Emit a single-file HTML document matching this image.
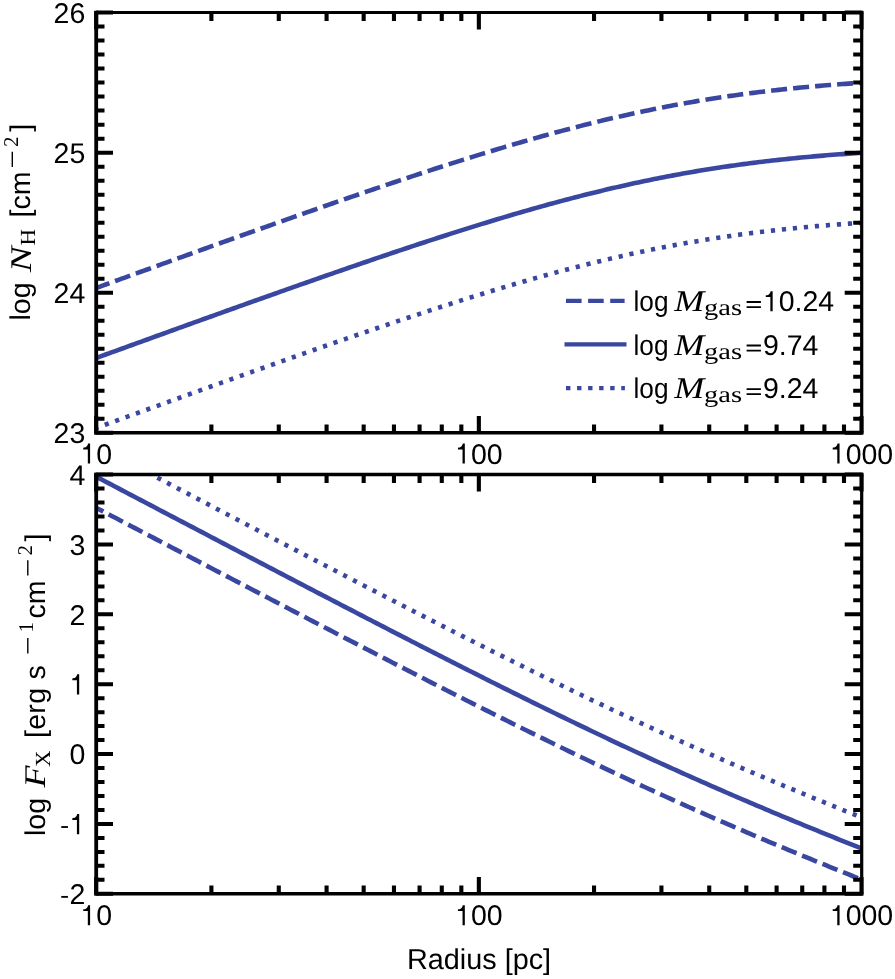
<!DOCTYPE html>
<html><head><meta charset="utf-8"><style>
html,body{margin:0;padding:0;background:#fff;}
svg{display:block;will-change:transform;}
text{font-family:"Liberation Sans", sans-serif;font-size:28.5px;fill:#000;text-rendering:geometricPrecision;}
.ser{font-family:"Liberation Serif", serif;}
</style></head><body>
<svg width="895" height="979" viewBox="0 0 895 979">
<defs>
<clipPath id="cu"><rect x="96.2" y="12.6" width="765.3" height="420.09999999999997"/></clipPath>
<clipPath id="cl"><rect x="96.2" y="474.6" width="765.3" height="419.19999999999993"/></clipPath>
</defs>
<rect width="895" height="979" fill="#fff"/>
<g fill="none" stroke="#3947a0" stroke-width="4.6" stroke-linejoin="round">
<g clip-path="url(#cu)">
<path d="M96.20,287.98 L99.39,286.82 L102.58,285.66 L105.77,284.50 L108.96,283.34 L112.14,282.18 L115.33,281.03 L118.52,279.87 L121.71,278.71 L124.90,277.56 L128.09,276.40 L131.28,275.24 L134.47,274.09 L137.65,272.93 L140.84,271.78 L144.03,270.62 L147.22,269.47 L150.41,268.31 L153.60,267.16 L156.79,266.01 L159.98,264.85 L163.16,263.70 L166.35,262.55 L169.54,261.40 L172.73,260.25 L175.92,259.10 L179.11,257.94 L182.30,256.79 L185.49,255.64 L188.67,254.50 L191.86,253.35 L195.05,252.20 L198.24,251.05 L201.43,249.90 L204.62,248.76 L207.81,247.61 L211.00,246.46 L214.18,245.32 L217.37,244.17 L220.56,243.03 L223.75,241.89 L226.94,240.74 L230.13,239.60 L233.32,238.46 L236.50,237.32 L239.69,236.18 L242.88,235.04 L246.07,233.90 L249.26,232.77 L252.45,231.63 L255.64,230.49 L258.83,229.36 L262.01,228.22 L265.20,227.09 L268.39,225.96 L271.58,224.82 L274.77,223.69 L277.96,222.56 L281.15,221.43 L284.34,220.31 L287.52,219.18 L290.71,218.05 L293.90,216.93 L297.09,215.81 L300.28,214.68 L303.47,213.56 L306.66,212.44 L309.85,211.32 L313.03,210.21 L316.22,209.09 L319.41,207.97 L322.60,206.86 L325.79,205.75 L328.98,204.64 L332.17,203.53 L335.36,202.42 L338.54,201.31 L341.73,200.21 L344.92,199.11 L348.11,198.01 L351.30,196.91 L354.49,195.81 L357.68,194.71 L360.87,193.62 L364.05,192.52 L367.24,191.43 L370.43,190.35 L373.62,189.26 L376.81,188.17 L380.00,187.09 L383.19,186.01 L386.38,184.93 L389.56,183.86 L392.75,182.78 L395.94,181.71 L399.13,180.64 L402.32,179.58 L405.51,178.51 L408.70,177.45 L411.89,176.39 L415.08,175.34 L418.26,174.28 L421.45,173.23 L424.64,172.19 L427.83,171.14 L431.02,170.10 L434.21,169.06 L437.40,168.03 L440.58,166.99 L443.77,165.96 L446.96,164.94 L450.15,163.92 L453.34,162.90 L456.53,161.88 L459.72,160.87 L462.91,159.86 L466.10,158.86 L469.28,157.86 L472.47,156.86 L475.66,155.87 L478.85,154.88 L482.04,153.90 L485.23,152.92 L488.42,151.94 L491.60,150.97 L494.79,150.00 L497.98,149.04 L501.17,148.08 L504.36,147.13 L507.55,146.18 L510.74,145.24 L513.93,144.30 L517.12,143.37 L520.30,142.44 L523.49,141.51 L526.68,140.60 L529.87,139.68 L533.06,138.78 L536.25,137.87 L539.44,136.98 L542.63,136.09 L545.81,135.20 L549.00,134.32 L552.19,133.45 L555.38,132.58 L558.57,131.72 L561.76,130.87 L564.95,130.02 L568.13,129.18 L571.32,128.34 L574.51,127.51 L577.70,126.69 L580.89,125.87 L584.08,125.07 L587.27,124.26 L590.46,123.47 L593.64,122.68 L596.83,121.90 L600.02,121.12 L603.21,120.35 L606.40,119.59 L609.59,118.84 L612.78,118.09 L615.97,117.35 L619.15,116.62 L622.34,115.90 L625.53,115.18 L628.72,114.47 L631.91,113.77 L635.10,113.08 L638.29,112.39 L641.48,111.71 L644.67,111.04 L647.85,110.38 L651.04,109.72 L654.23,109.07 L657.42,108.43 L660.61,107.80 L663.80,107.18 L666.99,106.56 L670.17,105.95 L673.36,105.35 L676.55,104.76 L679.74,104.17 L682.93,103.60 L686.12,103.03 L689.31,102.47 L692.50,101.91 L695.68,101.37 L698.87,100.83 L702.06,100.30 L705.25,99.78 L708.44,99.26 L711.63,98.76 L714.82,98.26 L718.01,97.77 L721.20,97.28 L724.38,96.81 L727.57,96.34 L730.76,95.88 L733.95,95.43 L737.14,94.98 L740.33,94.55 L743.52,94.11 L746.71,93.69 L749.89,93.28 L753.08,92.87 L756.27,92.47 L759.46,92.07 L762.65,91.68 L765.84,91.30 L769.03,90.93 L772.22,90.56 L775.40,90.20 L778.59,89.85 L781.78,89.50 L784.97,89.16 L788.16,88.83 L791.35,88.50 L794.54,88.18 L797.72,87.87 L800.91,87.56 L804.10,87.26 L807.29,86.96 L810.48,86.67 L813.67,86.39 L816.86,86.11 L820.05,85.84 L823.24,85.57 L826.42,85.31 L829.61,85.05 L832.80,84.80 L835.99,84.56 L839.18,84.31 L842.37,84.08 L845.56,83.85 L848.75,83.62 L851.93,83.40 L855.12,83.19 L858.31,82.98 L861.50,82.77" stroke-dasharray="16.06 6.03" stroke-dashoffset="2"/>
<path d="M96.20,357.99 L99.39,356.83 L102.58,355.68 L105.77,354.52 L108.96,353.36 L112.14,352.20 L115.33,351.04 L118.52,349.89 L121.71,348.73 L124.90,347.57 L128.09,346.42 L131.28,345.26 L134.47,344.11 L137.65,342.95 L140.84,341.79 L144.03,340.64 L147.22,339.49 L150.41,338.33 L153.60,337.18 L156.79,336.02 L159.98,334.87 L163.16,333.72 L166.35,332.57 L169.54,331.41 L172.73,330.26 L175.92,329.11 L179.11,327.96 L182.30,326.81 L185.49,325.66 L188.67,324.51 L191.86,323.36 L195.05,322.21 L198.24,321.07 L201.43,319.92 L204.62,318.77 L207.81,317.63 L211.00,316.48 L214.18,315.34 L217.37,314.19 L220.56,313.05 L223.75,311.90 L226.94,310.76 L230.13,309.62 L233.32,308.48 L236.50,307.34 L239.69,306.20 L242.88,305.06 L246.07,303.92 L249.26,302.78 L252.45,301.65 L255.64,300.51 L258.83,299.37 L262.01,298.24 L265.20,297.11 L268.39,295.97 L271.58,294.84 L274.77,293.71 L277.96,292.58 L281.15,291.45 L284.34,290.32 L287.52,289.20 L290.71,288.07 L293.90,286.95 L297.09,285.82 L300.28,284.70 L303.47,283.58 L306.66,282.46 L309.85,281.34 L313.03,280.22 L316.22,279.11 L319.41,277.99 L322.60,276.88 L325.79,275.77 L328.98,274.65 L332.17,273.55 L335.36,272.44 L338.54,271.33 L341.73,270.23 L344.92,269.12 L348.11,268.02 L351.30,266.92 L354.49,265.82 L357.68,264.73 L360.87,263.63 L364.05,262.54 L367.24,261.45 L370.43,260.36 L373.62,259.28 L376.81,258.19 L380.00,257.11 L383.19,256.03 L386.38,254.95 L389.56,253.87 L392.75,252.80 L395.94,251.73 L399.13,250.66 L402.32,249.59 L405.51,248.53 L408.70,247.47 L411.89,246.41 L415.08,245.35 L418.26,244.30 L421.45,243.25 L424.64,242.20 L427.83,241.16 L431.02,240.12 L434.21,239.08 L437.40,238.04 L440.58,237.01 L443.77,235.98 L446.96,234.96 L450.15,233.93 L453.34,232.91 L456.53,231.90 L459.72,230.89 L462.91,229.88 L466.10,228.88 L469.28,227.88 L472.47,226.88 L475.66,225.89 L478.85,224.90 L482.04,223.91 L485.23,222.93 L488.42,221.96 L491.60,220.99 L494.79,220.02 L497.98,219.06 L501.17,218.10 L504.36,217.15 L507.55,216.20 L510.74,215.25 L513.93,214.32 L517.12,213.38 L520.30,212.45 L523.49,211.53 L526.68,210.61 L529.87,209.70 L533.06,208.79 L536.25,207.89 L539.44,207.00 L542.63,206.10 L545.81,205.22 L549.00,204.34 L552.19,203.47 L555.38,202.60 L558.57,201.74 L561.76,200.89 L564.95,200.04 L568.13,199.20 L571.32,198.36 L574.51,197.53 L577.70,196.71 L580.89,195.89 L584.08,195.08 L587.27,194.28 L590.46,193.48 L593.64,192.69 L596.83,191.91 L600.02,191.14 L603.21,190.37 L606.40,189.61 L609.59,188.85 L612.78,188.11 L615.97,187.37 L619.15,186.64 L622.34,185.91 L625.53,185.20 L628.72,184.49 L631.91,183.79 L635.10,183.09 L638.29,182.41 L641.48,181.73 L644.67,181.06 L647.85,180.39 L651.04,179.74 L654.23,179.09 L657.42,178.45 L660.61,177.82 L663.80,177.19 L666.99,176.58 L670.17,175.97 L673.36,175.37 L676.55,174.77 L679.74,174.19 L682.93,173.61 L686.12,173.04 L689.31,172.48 L692.50,171.93 L695.68,171.38 L698.87,170.85 L702.06,170.32 L705.25,169.79 L708.44,169.28 L711.63,168.77 L714.82,168.28 L718.01,167.78 L721.20,167.30 L724.38,166.83 L727.57,166.36 L730.76,165.90 L733.95,165.44 L737.14,165.00 L740.33,164.56 L743.52,164.13 L746.71,163.71 L749.89,163.29 L753.08,162.88 L756.27,162.48 L759.46,162.09 L762.65,161.70 L765.84,161.32 L769.03,160.95 L772.22,160.58 L775.40,160.22 L778.59,159.87 L781.78,159.52 L784.97,159.18 L788.16,158.85 L791.35,158.52 L794.54,158.20 L797.72,157.89 L800.91,157.58 L804.10,157.28 L807.29,156.98 L810.48,156.69 L813.67,156.40 L816.86,156.13 L820.05,155.85 L823.24,155.59 L826.42,155.32 L829.61,155.07 L832.80,154.82 L835.99,154.57 L839.18,154.33 L842.37,154.10 L845.56,153.87 L848.75,153.64 L851.93,153.42 L855.12,153.21 L858.31,152.99 L861.50,152.79" />
<path d="M96.20,428.01 L99.39,426.85 L102.58,425.69 L105.77,424.53 L108.96,423.38 L112.14,422.22 L115.33,421.06 L118.52,419.90 L121.71,418.75 L124.90,417.59 L128.09,416.43 L131.28,415.28 L134.47,414.12 L137.65,412.97 L140.84,411.81 L144.03,410.66 L147.22,409.50 L150.41,408.35 L153.60,407.19 L156.79,406.04 L159.98,404.89 L163.16,403.74 L166.35,402.58 L169.54,401.43 L172.73,400.28 L175.92,399.13 L179.11,397.98 L182.30,396.83 L185.49,395.68 L188.67,394.53 L191.86,393.38 L195.05,392.23 L198.24,391.08 L201.43,389.94 L204.62,388.79 L207.81,387.64 L211.00,386.50 L214.18,385.35 L217.37,384.21 L220.56,383.06 L223.75,381.92 L226.94,380.78 L230.13,379.64 L233.32,378.49 L236.50,377.35 L239.69,376.21 L242.88,375.07 L246.07,373.94 L249.26,372.80 L252.45,371.66 L255.64,370.53 L258.83,369.39 L262.01,368.26 L265.20,367.12 L268.39,365.99 L271.58,364.86 L274.77,363.73 L277.96,362.60 L281.15,361.47 L284.34,360.34 L287.52,359.21 L290.71,358.09 L293.90,356.96 L297.09,355.84 L300.28,354.72 L303.47,353.60 L306.66,352.48 L309.85,351.36 L313.03,350.24 L316.22,349.12 L319.41,348.01 L322.60,346.89 L325.79,345.78 L328.98,344.67 L332.17,343.56 L335.36,342.45 L338.54,341.35 L341.73,340.24 L344.92,339.14 L348.11,338.04 L351.30,336.94 L354.49,335.84 L357.68,334.74 L360.87,333.65 L364.05,332.56 L367.24,331.47 L370.43,330.38 L373.62,329.29 L376.81,328.21 L380.00,327.12 L383.19,326.04 L386.38,324.97 L389.56,323.89 L392.75,322.82 L395.94,321.75 L399.13,320.68 L402.32,319.61 L405.51,318.55 L408.70,317.49 L411.89,316.43 L415.08,315.37 L418.26,314.32 L421.45,313.27 L424.64,312.22 L427.83,311.17 L431.02,310.13 L434.21,309.09 L437.40,308.06 L440.58,307.03 L443.77,306.00 L446.96,304.97 L450.15,303.95 L453.34,302.93 L456.53,301.92 L459.72,300.90 L462.91,299.90 L466.10,298.89 L469.28,297.89 L472.47,296.90 L475.66,295.90 L478.85,294.91 L482.04,293.93 L485.23,292.95 L488.42,291.97 L491.60,291.00 L494.79,290.04 L497.98,289.07 L501.17,288.12 L504.36,287.16 L507.55,286.21 L510.74,285.27 L513.93,284.33 L517.12,283.40 L520.30,282.47 L523.49,281.55 L526.68,280.63 L529.87,279.72 L533.06,278.81 L536.25,277.91 L539.44,277.01 L542.63,276.12 L545.81,275.24 L549.00,274.36 L552.19,273.49 L555.38,272.62 L558.57,271.76 L561.76,270.90 L564.95,270.05 L568.13,269.21 L571.32,268.38 L574.51,267.55 L577.70,266.72 L580.89,265.91 L584.08,265.10 L587.27,264.30 L590.46,263.50 L593.64,262.71 L596.83,261.93 L600.02,261.15 L603.21,260.39 L606.40,259.63 L609.59,258.87 L612.78,258.13 L615.97,257.39 L619.15,256.65 L622.34,255.93 L625.53,255.21 L628.72,254.50 L631.91,253.80 L635.10,253.11 L638.29,252.42 L641.48,251.74 L644.67,251.07 L647.85,250.41 L651.04,249.75 L654.23,249.11 L657.42,248.47 L660.61,247.83 L663.80,247.21 L666.99,246.59 L670.17,245.98 L673.36,245.38 L676.55,244.79 L679.74,244.21 L682.93,243.63 L686.12,243.06 L689.31,242.50 L692.50,241.95 L695.68,241.40 L698.87,240.86 L702.06,240.33 L705.25,239.81 L708.44,239.30 L711.63,238.79 L714.82,238.29 L718.01,237.80 L721.20,237.32 L724.38,236.84 L727.57,236.37 L730.76,235.91 L733.95,235.46 L737.14,235.02 L740.33,234.58 L743.52,234.15 L746.71,233.72 L749.89,233.31 L753.08,232.90 L756.27,232.50 L759.46,232.10 L762.65,231.72 L765.84,231.34 L769.03,230.96 L772.22,230.60 L775.40,230.24 L778.59,229.88 L781.78,229.54 L784.97,229.20 L788.16,228.86 L791.35,228.54 L794.54,228.22 L797.72,227.90 L800.91,227.59 L804.10,227.29 L807.29,227.00 L810.48,226.71 L813.67,226.42 L816.86,226.14 L820.05,225.87 L823.24,225.60 L826.42,225.34 L829.61,225.08 L832.80,224.83 L835.99,224.59 L839.18,224.35 L842.37,224.11 L845.56,223.88 L848.75,223.66 L851.93,223.44 L855.12,223.22 L858.31,223.01 L861.50,222.81" stroke-dasharray="4.2 6.84" stroke-dashoffset="1.9"/>
</g>
<g clip-path="url(#cl)">
<path d="M96.20,507.79 L99.39,509.46 L102.58,511.13 L105.77,512.81 L108.96,514.48 L112.14,516.16 L115.33,517.83 L118.52,519.50 L121.71,521.18 L124.90,522.85 L128.09,524.53 L131.28,526.20 L134.47,527.87 L137.65,529.55 L140.84,531.22 L144.03,532.89 L147.22,534.57 L150.41,536.24 L153.60,537.91 L156.79,539.59 L159.98,541.26 L163.16,542.93 L166.35,544.61 L169.54,546.28 L172.73,547.95 L175.92,549.62 L179.11,551.30 L182.30,552.97 L185.49,554.64 L188.67,556.31 L191.86,557.99 L195.05,559.66 L198.24,561.33 L201.43,563.00 L204.62,564.67 L207.81,566.34 L211.00,568.02 L214.18,569.69 L217.37,571.36 L220.56,573.03 L223.75,574.70 L226.94,576.37 L230.13,578.04 L233.32,579.71 L236.50,581.38 L239.69,583.05 L242.88,584.72 L246.07,586.38 L249.26,588.05 L252.45,589.72 L255.64,591.39 L258.83,593.06 L262.01,594.73 L265.20,596.39 L268.39,598.06 L271.58,599.73 L274.77,601.39 L277.96,603.06 L281.15,604.72 L284.34,606.39 L287.52,608.05 L290.71,609.72 L293.90,611.38 L297.09,613.05 L300.28,614.71 L303.47,616.37 L306.66,618.03 L309.85,619.70 L313.03,621.36 L316.22,623.02 L319.41,624.68 L322.60,626.34 L325.79,628.00 L328.98,629.66 L332.17,631.31 L335.36,632.97 L338.54,634.63 L341.73,636.28 L344.92,637.94 L348.11,639.60 L351.30,641.25 L354.49,642.90 L357.68,644.56 L360.87,646.21 L364.05,647.86 L367.24,649.51 L370.43,651.16 L373.62,652.81 L376.81,654.46 L380.00,656.11 L383.19,657.75 L386.38,659.40 L389.56,661.04 L392.75,662.69 L395.94,664.33 L399.13,665.97 L402.32,667.61 L405.51,669.25 L408.70,670.89 L411.89,672.53 L415.08,674.17 L418.26,675.80 L421.45,677.44 L424.64,679.07 L427.83,680.70 L431.02,682.33 L434.21,683.96 L437.40,685.59 L440.58,687.21 L443.77,688.84 L446.96,690.46 L450.15,692.09 L453.34,693.71 L456.53,695.33 L459.72,696.95 L462.91,698.56 L466.10,700.18 L469.28,701.79 L472.47,703.40 L475.66,705.01 L478.85,706.62 L482.04,708.23 L485.23,709.83 L488.42,711.43 L491.60,713.04 L494.79,714.63 L497.98,716.23 L501.17,717.83 L504.36,719.42 L507.55,721.01 L510.74,722.60 L513.93,724.19 L517.12,725.77 L520.30,727.35 L523.49,728.94 L526.68,730.51 L529.87,732.09 L533.06,733.66 L536.25,735.23 L539.44,736.80 L542.63,738.37 L545.81,739.93 L549.00,741.49 L552.19,743.05 L555.38,744.61 L558.57,746.16 L561.76,747.71 L564.95,749.26 L568.13,750.81 L571.32,752.35 L574.51,753.89 L577.70,755.43 L580.89,756.96 L584.08,758.49 L587.27,760.02 L590.46,761.55 L593.64,763.07 L596.83,764.59 L600.02,766.11 L603.21,767.62 L606.40,769.13 L609.59,770.64 L612.78,772.14 L615.97,773.64 L619.15,775.14 L622.34,776.64 L625.53,778.13 L628.72,779.62 L631.91,781.10 L635.10,782.58 L638.29,784.06 L641.48,785.54 L644.67,787.01 L647.85,788.48 L651.04,789.94 L654.23,791.40 L657.42,792.86 L660.61,794.32 L663.80,795.77 L666.99,797.22 L670.17,798.66 L673.36,800.10 L676.55,801.54 L679.74,802.97 L682.93,804.40 L686.12,805.83 L689.31,807.25 L692.50,808.68 L695.68,810.09 L698.87,811.51 L702.06,812.92 L705.25,814.32 L708.44,815.73 L711.63,817.13 L714.82,818.52 L718.01,819.92 L721.20,821.31 L724.38,822.69 L727.57,824.08 L730.76,825.46 L733.95,826.84 L737.14,828.21 L740.33,829.58 L743.52,830.95 L746.71,832.31 L749.89,833.67 L753.08,835.03 L756.27,836.38 L759.46,837.74 L762.65,839.09 L765.84,840.43 L769.03,841.77 L772.22,843.11 L775.40,844.45 L778.59,845.78 L781.78,847.12 L784.97,848.44 L788.16,849.77 L791.35,851.09 L794.54,852.41 L797.72,853.73 L800.91,855.04 L804.10,856.35 L807.29,857.66 L810.48,858.97 L813.67,860.28 L816.86,861.58 L820.05,862.88 L823.24,864.17 L826.42,865.47 L829.61,866.76 L832.80,868.05 L835.99,869.34 L839.18,870.62 L842.37,871.91 L845.56,873.19 L848.75,874.47 L851.93,875.74 L855.12,877.02 L858.31,878.29 L861.50,879.56" stroke-dasharray="16.06 6.03" stroke-dashoffset="8"/>
<path d="M96.20,476.70 L99.39,478.37 L102.58,480.04 L105.77,481.72 L108.96,483.39 L112.14,485.07 L115.33,486.74 L118.52,488.41 L121.71,490.09 L124.90,491.76 L128.09,493.43 L131.28,495.11 L134.47,496.78 L137.65,498.46 L140.84,500.13 L144.03,501.80 L147.22,503.48 L150.41,505.15 L153.60,506.82 L156.79,508.50 L159.98,510.17 L163.16,511.84 L166.35,513.52 L169.54,515.19 L172.73,516.86 L175.92,518.53 L179.11,520.21 L182.30,521.88 L185.49,523.55 L188.67,525.22 L191.86,526.90 L195.05,528.57 L198.24,530.24 L201.43,531.91 L204.62,533.58 L207.81,535.25 L211.00,536.92 L214.18,538.60 L217.37,540.27 L220.56,541.94 L223.75,543.61 L226.94,545.28 L230.13,546.95 L233.32,548.62 L236.50,550.29 L239.69,551.96 L242.88,553.63 L246.07,555.29 L249.26,556.96 L252.45,558.63 L255.64,560.30 L258.83,561.97 L262.01,563.63 L265.20,565.30 L268.39,566.97 L271.58,568.64 L274.77,570.30 L277.96,571.97 L281.15,573.63 L284.34,575.30 L287.52,576.96 L290.71,578.63 L293.90,580.29 L297.09,581.95 L300.28,583.62 L303.47,585.28 L306.66,586.94 L309.85,588.60 L313.03,590.27 L316.22,591.93 L319.41,593.59 L322.60,595.25 L325.79,596.91 L328.98,598.56 L332.17,600.22 L335.36,601.88 L338.54,603.54 L341.73,605.19 L344.92,606.85 L348.11,608.50 L351.30,610.16 L354.49,611.81 L357.68,613.47 L360.87,615.12 L364.05,616.77 L367.24,618.42 L370.43,620.07 L373.62,621.72 L376.81,623.37 L380.00,625.02 L383.19,626.66 L386.38,628.31 L389.56,629.95 L392.75,631.60 L395.94,633.24 L399.13,634.88 L402.32,636.52 L405.51,638.16 L408.70,639.80 L411.89,641.44 L415.08,643.07 L418.26,644.71 L421.45,646.34 L424.64,647.98 L427.83,649.61 L431.02,651.24 L434.21,652.87 L437.40,654.50 L440.58,656.12 L443.77,657.75 L446.96,659.37 L450.15,661.00 L453.34,662.62 L456.53,664.24 L459.72,665.85 L462.91,667.47 L466.10,669.09 L469.28,670.70 L472.47,672.31 L475.66,673.92 L478.85,675.53 L482.04,677.14 L485.23,678.74 L488.42,680.34 L491.60,681.94 L494.79,683.54 L497.98,685.14 L501.17,686.74 L504.36,688.33 L507.55,689.92 L510.74,691.51 L513.93,693.10 L517.12,694.68 L520.30,696.26 L523.49,697.84 L526.68,699.42 L529.87,701.00 L533.06,702.57 L536.25,704.14 L539.44,705.71 L542.63,707.28 L545.81,708.84 L549.00,710.40 L552.19,711.96 L555.38,713.52 L558.57,715.07 L561.76,716.62 L564.95,718.17 L568.13,719.72 L571.32,721.26 L574.51,722.80 L577.70,724.34 L580.89,725.87 L584.08,727.40 L587.27,728.93 L590.46,730.46 L593.64,731.98 L596.83,733.50 L600.02,735.02 L603.21,736.53 L606.40,738.04 L609.59,739.55 L612.78,741.05 L615.97,742.55 L619.15,744.05 L622.34,745.55 L625.53,747.04 L628.72,748.53 L631.91,750.01 L635.10,751.49 L638.29,752.97 L641.48,754.45 L644.67,755.92 L647.85,757.39 L651.04,758.85 L654.23,760.31 L657.42,761.77 L660.61,763.23 L663.80,764.68 L666.99,766.12 L670.17,767.57 L673.36,769.01 L676.55,770.45 L679.74,771.88 L682.93,773.31 L686.12,774.74 L689.31,776.16 L692.50,777.58 L695.68,779.00 L698.87,780.42 L702.06,781.83 L705.25,783.23 L708.44,784.64 L711.63,786.04 L714.82,787.43 L718.01,788.83 L721.20,790.22 L724.38,791.60 L727.57,792.99 L730.76,794.37 L733.95,795.74 L737.14,797.12 L740.33,798.49 L743.52,799.86 L746.71,801.22 L749.89,802.58 L753.08,803.94 L756.27,805.29 L759.46,806.65 L762.65,807.99 L765.84,809.34 L769.03,810.68 L772.22,812.02 L775.40,813.36 L778.59,814.69 L781.78,816.02 L784.97,817.35 L788.16,818.68 L791.35,820.00 L794.54,821.32 L797.72,822.64 L800.91,823.95 L804.10,825.26 L807.29,826.57 L810.48,827.88 L813.67,829.18 L816.86,830.49 L820.05,831.79 L823.24,833.08 L826.42,834.38 L829.61,835.67 L832.80,836.96 L835.99,838.25 L839.18,839.53 L842.37,840.82 L845.56,842.10 L848.75,843.38 L851.93,844.65 L855.12,845.93 L858.31,847.20 L861.50,848.47" />
<path d="M96.20,445.61 L99.39,447.28 L102.58,448.95 L105.77,450.63 L108.96,452.30 L112.14,453.98 L115.33,455.65 L118.52,457.32 L121.71,459.00 L124.90,460.67 L128.09,462.34 L131.28,464.02 L134.47,465.69 L137.65,467.37 L140.84,469.04 L144.03,470.71 L147.22,472.39 L150.41,474.06 L153.60,475.73 L156.79,477.41 L159.98,479.08 L163.16,480.75 L166.35,482.42 L169.54,484.10 L172.73,485.77 L175.92,487.44 L179.11,489.12 L182.30,490.79 L185.49,492.46 L188.67,494.13 L191.86,495.80 L195.05,497.48 L198.24,499.15 L201.43,500.82 L204.62,502.49 L207.81,504.16 L211.00,505.83 L214.18,507.50 L217.37,509.18 L220.56,510.85 L223.75,512.52 L226.94,514.19 L230.13,515.86 L233.32,517.53 L236.50,519.20 L239.69,520.87 L242.88,522.53 L246.07,524.20 L249.26,525.87 L252.45,527.54 L255.64,529.21 L258.83,530.88 L262.01,532.54 L265.20,534.21 L268.39,535.88 L271.58,537.54 L274.77,539.21 L277.96,540.88 L281.15,542.54 L284.34,544.21 L287.52,545.87 L290.71,547.54 L293.90,549.20 L297.09,550.86 L300.28,552.53 L303.47,554.19 L306.66,555.85 L309.85,557.51 L313.03,559.18 L316.22,560.84 L319.41,562.50 L322.60,564.16 L325.79,565.82 L328.98,567.47 L332.17,569.13 L335.36,570.79 L338.54,572.45 L341.73,574.10 L344.92,575.76 L348.11,577.41 L351.30,579.07 L354.49,580.72 L357.68,582.37 L360.87,584.03 L364.05,585.68 L367.24,587.33 L370.43,588.98 L373.62,590.63 L376.81,592.28 L380.00,593.92 L383.19,595.57 L386.38,597.22 L389.56,598.86 L392.75,600.51 L395.94,602.15 L399.13,603.79 L402.32,605.43 L405.51,607.07 L408.70,608.71 L411.89,610.35 L415.08,611.98 L418.26,613.62 L421.45,615.25 L424.64,616.89 L427.83,618.52 L431.02,620.15 L434.21,621.78 L437.40,623.41 L440.58,625.03 L443.77,626.66 L446.96,628.28 L450.15,629.91 L453.34,631.53 L456.53,633.15 L459.72,634.76 L462.91,636.38 L466.10,638.00 L469.28,639.61 L472.47,641.22 L475.66,642.83 L478.85,644.44 L482.04,646.05 L485.23,647.65 L488.42,649.25 L491.60,650.85 L494.79,652.45 L497.98,654.05 L501.17,655.65 L504.36,657.24 L507.55,658.83 L510.74,660.42 L513.93,662.01 L517.12,663.59 L520.30,665.17 L523.49,666.75 L526.68,668.33 L529.87,669.91 L533.06,671.48 L536.25,673.05 L539.44,674.62 L542.63,676.19 L545.81,677.75 L549.00,679.31 L552.19,680.87 L555.38,682.43 L558.57,683.98 L561.76,685.53 L564.95,687.08 L568.13,688.63 L571.32,690.17 L574.51,691.71 L577.70,693.25 L580.89,694.78 L584.08,696.31 L587.27,697.84 L590.46,699.37 L593.64,700.89 L596.83,702.41 L600.02,703.93 L603.21,705.44 L606.40,706.95 L609.59,708.46 L612.78,709.96 L615.97,711.46 L619.15,712.96 L622.34,714.46 L625.53,715.95 L628.72,717.44 L631.91,718.92 L635.10,720.40 L638.29,721.88 L641.48,723.36 L644.67,724.83 L647.85,726.30 L651.04,727.76 L654.23,729.22 L657.42,730.68 L660.61,732.13 L663.80,733.59 L666.99,735.03 L670.17,736.48 L673.36,737.92 L676.55,739.36 L679.74,740.79 L682.93,742.22 L686.12,743.65 L689.31,745.07 L692.50,746.49 L695.68,747.91 L698.87,749.32 L702.06,750.74 L705.25,752.14 L708.44,753.55 L711.63,754.95 L714.82,756.34 L718.01,757.74 L721.20,759.13 L724.38,760.51 L727.57,761.90 L730.76,763.28 L733.95,764.65 L737.14,766.03 L740.33,767.40 L743.52,768.77 L746.71,770.13 L749.89,771.49 L753.08,772.85 L756.27,774.20 L759.46,775.56 L762.65,776.90 L765.84,778.25 L769.03,779.59 L772.22,780.93 L775.40,782.27 L778.59,783.60 L781.78,784.93 L784.97,786.26 L788.16,787.59 L791.35,788.91 L794.54,790.23 L797.72,791.55 L800.91,792.86 L804.10,794.17 L807.29,795.48 L810.48,796.79 L813.67,798.09 L816.86,799.40 L820.05,800.70 L823.24,801.99 L826.42,803.29 L829.61,804.58 L832.80,805.87 L835.99,807.16 L839.18,808.44 L842.37,809.72 L845.56,811.01 L848.75,812.28 L851.93,813.56 L855.12,814.84 L858.31,816.11 L861.50,817.38" stroke-dasharray="4.2 6.84" stroke-dashoffset="-2.8"/>
</g>
</g>
<g fill="none" stroke="#000" stroke-width="3.5">
<path d="M94.30,12.6H863.40" stroke-width="3.0"/>
<path d="M94.30,432.7H863.40M94.30,474.6H863.40M94.30,893.8H863.40"/>
<path d="M96.20,432.70V415.90 M96.20,12.60V29.40 M211.39,432.70V424.40 M211.39,12.60V20.90 M278.77,432.70V424.40 M278.77,12.60V20.90 M326.58,432.70V424.40 M326.58,12.60V20.90 M363.66,432.70V424.40 M363.66,12.60V20.90 M393.96,432.70V424.40 M393.96,12.60V20.90 M419.58,432.70V424.40 M419.58,12.60V20.90 M441.77,432.70V424.40 M441.77,12.60V20.90 M461.34,432.70V424.40 M461.34,12.60V20.90 M478.85,432.70V415.90 M478.85,12.60V29.40 M594.04,432.70V424.40 M594.04,12.60V20.90 M661.42,432.70V424.40 M661.42,12.60V20.90 M709.23,432.70V424.40 M709.23,12.60V20.90 M746.31,432.70V424.40 M746.31,12.60V20.90 M776.61,432.70V424.40 M776.61,12.60V20.90 M802.23,432.70V424.40 M802.23,12.60V20.90 M824.42,432.70V424.40 M824.42,12.60V20.90 M843.99,432.70V424.40 M843.99,12.60V20.90 M861.50,432.70V415.90 M861.50,12.60V29.40 M96.20,893.80V877.00 M96.20,474.60V491.40 M211.39,893.80V885.50 M211.39,474.60V482.90 M278.77,893.80V885.50 M278.77,474.60V482.90 M326.58,893.80V885.50 M326.58,474.60V482.90 M363.66,893.80V885.50 M363.66,474.60V482.90 M393.96,893.80V885.50 M393.96,474.60V482.90 M419.58,893.80V885.50 M419.58,474.60V482.90 M441.77,893.80V885.50 M441.77,474.60V482.90 M461.34,893.80V885.50 M461.34,474.60V482.90 M478.85,893.80V877.00 M478.85,474.60V491.40 M594.04,893.80V885.50 M594.04,474.60V482.90 M661.42,893.80V885.50 M661.42,474.60V482.90 M709.23,893.80V885.50 M709.23,474.60V482.90 M746.31,893.80V885.50 M746.31,474.60V482.90 M776.61,893.80V885.50 M776.61,474.60V482.90 M802.23,893.80V885.50 M802.23,474.60V482.90 M824.42,893.80V885.50 M824.42,474.60V482.90 M843.99,893.80V885.50 M843.99,474.60V482.90 M861.50,893.80V877.00 M861.50,474.60V491.40" stroke-width="4.1"/>
<path d="M96.20,432.70H113.00 M861.50,432.70H844.70 M96.20,292.67H113.00 M861.50,292.67H844.70 M96.20,152.63H113.00 M861.50,152.63H844.70 M96.20,12.60H113.00 M861.50,12.60H844.70 M96.20,418.70H104.50 M861.50,418.70H853.20 M96.20,404.69H104.50 M861.50,404.69H853.20 M96.20,390.69H104.50 M861.50,390.69H853.20 M96.20,376.69H104.50 M861.50,376.69H853.20 M96.20,362.68H104.50 M861.50,362.68H853.20 M96.20,348.68H104.50 M861.50,348.68H853.20 M96.20,334.68H104.50 M861.50,334.68H853.20 M96.20,320.67H104.50 M861.50,320.67H853.20 M96.20,306.67H104.50 M861.50,306.67H853.20 M96.20,278.66H104.50 M861.50,278.66H853.20 M96.20,264.66H104.50 M861.50,264.66H853.20 M96.20,250.66H104.50 M861.50,250.66H853.20 M96.20,236.65H104.50 M861.50,236.65H853.20 M96.20,222.65H104.50 M861.50,222.65H853.20 M96.20,208.65H104.50 M861.50,208.65H853.20 M96.20,194.64H104.50 M861.50,194.64H853.20 M96.20,180.64H104.50 M861.50,180.64H853.20 M96.20,166.64H104.50 M861.50,166.64H853.20 M96.20,138.63H104.50 M861.50,138.63H853.20 M96.20,124.63H104.50 M861.50,124.63H853.20 M96.20,110.62H104.50 M861.50,110.62H853.20 M96.20,96.62H104.50 M861.50,96.62H853.20 M96.20,82.62H104.50 M861.50,82.62H853.20 M96.20,68.61H104.50 M861.50,68.61H853.20 M96.20,54.61H104.50 M861.50,54.61H853.20 M96.20,40.61H104.50 M861.50,40.61H853.20 M96.20,26.60H104.50 M861.50,26.60H853.20 M96.20,893.80H113.00 M861.50,893.80H844.70 M96.20,823.93H113.00 M861.50,823.93H844.70 M96.20,754.07H113.00 M861.50,754.07H844.70 M96.20,684.20H113.00 M861.50,684.20H844.70 M96.20,614.33H113.00 M861.50,614.33H844.70 M96.20,544.47H113.00 M861.50,544.47H844.70 M96.20,474.60H113.00 M861.50,474.60H844.70 M96.20,879.83H104.50 M861.50,879.83H853.20 M96.20,865.85H104.50 M861.50,865.85H853.20 M96.20,851.88H104.50 M861.50,851.88H853.20 M96.20,837.91H104.50 M861.50,837.91H853.20 M96.20,809.96H104.50 M861.50,809.96H853.20 M96.20,795.99H104.50 M861.50,795.99H853.20 M96.20,782.01H104.50 M861.50,782.01H853.20 M96.20,768.04H104.50 M861.50,768.04H853.20 M96.20,740.09H104.50 M861.50,740.09H853.20 M96.20,726.12H104.50 M861.50,726.12H853.20 M96.20,712.15H104.50 M861.50,712.15H853.20 M96.20,698.17H104.50 M861.50,698.17H853.20 M96.20,670.23H104.50 M861.50,670.23H853.20 M96.20,656.25H104.50 M861.50,656.25H853.20 M96.20,642.28H104.50 M861.50,642.28H853.20 M96.20,628.31H104.50 M861.50,628.31H853.20 M96.20,600.36H104.50 M861.50,600.36H853.20 M96.20,586.39H104.50 M861.50,586.39H853.20 M96.20,572.41H104.50 M861.50,572.41H853.20 M96.20,558.44H104.50 M861.50,558.44H853.20 M96.20,530.49H104.50 M861.50,530.49H853.20 M96.20,516.52H104.50 M861.50,516.52H853.20 M96.20,502.55H104.50 M861.50,502.55H853.20 M96.20,488.57H104.50 M861.50,488.57H853.20" stroke-width="4.0"/>
</g>
<g fill="none" stroke="#000" stroke-width="3.8">
<path d="M96.2,10.85V434.45M96.2,472.85V895.55"/>
<path d="M861.7,10.85V434.45M861.7,472.85V895.55" stroke-width="3.2"/>
</g>
<g fill="none" stroke="#3947a0" stroke-width="4.2">
<path d="M566,300.9H624.6" stroke-dasharray="15.6 6.5"/>
<path d="M564.5,344.45H626.5"/>
<path d="M566,388.2H624.9" stroke-dasharray="4.4 6.65"/>
</g>
<path transform="translate(80.35,463.50) scale(0.02850,-0.02850)" d="M342,0L262,0L262,495L101,495L101,556C178,560 248,586 270,703L342,703Z"/><text x="96.20" y="463.50">0</text>
<path transform="translate(455.08,463.50) scale(0.02850,-0.02850)" d="M342,0L262,0L262,495L101,495L101,556C178,560 248,586 270,703L342,703Z"/><text x="470.93" y="463.50">00</text>
<path transform="translate(829.81,463.50) scale(0.02850,-0.02850)" d="M342,0L262,0L262,495L101,495L101,556C178,560 248,586 270,703L342,703Z"/><text x="845.65" y="463.50">000</text>
<path transform="translate(80.35,925.20) scale(0.02850,-0.02850)" d="M342,0L262,0L262,495L101,495L101,556C178,560 248,586 270,703L342,703Z"/><text x="96.20" y="925.20">0</text>
<path transform="translate(455.08,925.20) scale(0.02850,-0.02850)" d="M342,0L262,0L262,495L101,495L101,556C178,560 248,586 270,703L342,703Z"/><text x="470.93" y="925.20">00</text>
<path transform="translate(829.81,925.20) scale(0.02850,-0.02850)" d="M342,0L262,0L262,495L101,495L101,556C178,560 248,586 270,703L342,703Z"/><text x="845.65" y="925.20">000</text>
<text x="53.61" y="442.90">23</text>
<text x="53.61" y="302.87">24</text>
<text x="53.61" y="162.83">25</text>
<text x="53.61" y="22.80">26</text>
<path d="M61.27,896.88H67.94" stroke="#000" stroke-width="1.85"/><text x="69.45" y="904.00">2</text>
<path d="M61.27,827.01H67.94" stroke="#000" stroke-width="1.85"/><path transform="translate(69.45,834.13) scale(0.02850,-0.02850)" d="M342,0L262,0L262,495L101,495L101,556C178,560 248,586 270,703L342,703Z"/>
<text x="69.45" y="764.27">0</text>
<path transform="translate(69.45,694.40) scale(0.02850,-0.02850)" d="M342,0L262,0L262,495L101,495L101,556C178,560 248,586 270,703L342,703Z"/>
<text x="69.45" y="624.53">2</text>
<text x="69.45" y="554.67">3</text>
<text x="69.45" y="484.80">4</text>
<text x="633.50" y="311.20" textLength="35" lengthAdjust="spacingAndGlyphs">log</text>
<text x="674.20" y="311.20" class="ser" font-style="italic" style="font-size:30px" textLength="30" lengthAdjust="spacingAndGlyphs">M</text>
<text x="704.00" y="315.10" class="ser" style="font-size:23px" textLength="38" lengthAdjust="spacingAndGlyphs">gas</text>
<path d="M746.6,302.0H760.9M746.6,307.09999999999997H760.9" stroke="#000" stroke-width="1.8"/>
<path transform="translate(762.90,311.20) scale(0.02850,-0.02850)" d="M342,0L262,0L262,495L101,495L101,556C178,560 248,586 270,703L342,703Z"/><text x="778.75" y="311.20">0.24</text>
<text x="633.50" y="354.70" textLength="35" lengthAdjust="spacingAndGlyphs">log</text>
<text x="674.20" y="354.70" class="ser" font-style="italic" style="font-size:30px" textLength="30" lengthAdjust="spacingAndGlyphs">M</text>
<text x="704.00" y="358.60" class="ser" style="font-size:23px" textLength="38" lengthAdjust="spacingAndGlyphs">gas</text>
<path d="M746.6,345.5H760.9M746.6,350.59999999999997H760.9" stroke="#000" stroke-width="1.8"/>
<text x="762.90" y="354.70">9.74</text>
<text x="633.50" y="398.30" textLength="35" lengthAdjust="spacingAndGlyphs">log</text>
<text x="674.20" y="398.30" class="ser" font-style="italic" style="font-size:30px" textLength="30" lengthAdjust="spacingAndGlyphs">M</text>
<text x="704.00" y="402.20" class="ser" style="font-size:23px" textLength="38" lengthAdjust="spacingAndGlyphs">gas</text>
<path d="M746.6,389.1H760.9M746.6,394.2H760.9" stroke="#000" stroke-width="1.8"/>
<text x="762.90" y="398.30">9.24</text>
<text transform="rotate(-90)" x="-320.50" y="30.30">log</text>
<text transform="rotate(-90)" x="-272.20" y="30.50" class="ser" font-style="italic" style="font-size:30px" textLength="26" lengthAdjust="spacingAndGlyphs">N</text>
<text transform="rotate(-90)" x="-245.60" y="34.90" class="ser" style="font-size:21.5px" textLength="16.5" lengthAdjust="spacingAndGlyphs">H</text>
<text transform="rotate(-90)" x="-217.50" y="30.30">[cm</text>
<path d="M12.3,167V151.7" stroke="#000" stroke-width="1.4" fill="none"/>
<text transform="rotate(-90)" x="-147.00" y="18.40" class="ser" style="font-size:21px">2</text>
<text transform="rotate(-90)" x="-131.80" y="30.30">]</text>
<text transform="rotate(-90)" x="-836.00" y="44.70">log</text>
<text transform="rotate(-90)" x="-787.50" y="44.70" class="ser" font-style="italic" style="font-size:30px" textLength="22" lengthAdjust="spacingAndGlyphs">F</text>
<text transform="rotate(-90)" x="-767.00" y="49.60" class="ser" style="font-size:21.5px" textLength="16.5" lengthAdjust="spacingAndGlyphs">X</text>
<text letter-spacing="0.3" transform="rotate(-90)" x="-738.00" y="44.70">[erg s</text>
<path d="M27.8,653.4V638" stroke="#000" stroke-width="1.4" fill="none"/>
<text transform="rotate(-90)" x="-632.50" y="33.30" class="ser" style="font-size:21px">1</text>
<text transform="rotate(-90)" x="-618.50" y="44.70">cm</text>
<path d="M27.8,575.5V560.2" stroke="#000" stroke-width="1.4" fill="none"/>
<text transform="rotate(-90)" x="-555.50" y="32.00" class="ser" style="font-size:21px">2</text>
<text transform="rotate(-90)" x="-541.50" y="44.70">]</text>
<text x="407.00" y="968.60" style="font-size:28.8px">Radius [pc]</text>
</svg>
</body></html>
